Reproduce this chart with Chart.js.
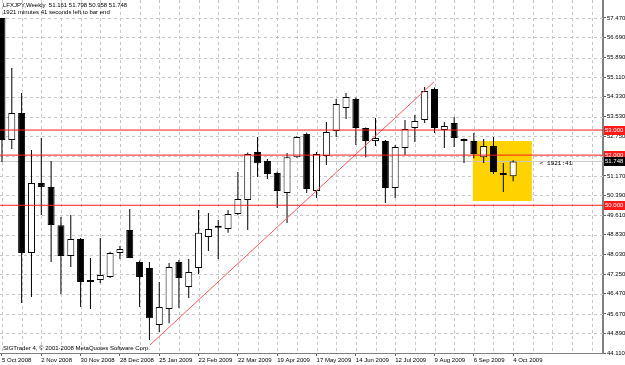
<!DOCTYPE html>
<html>
<head>
<meta charset="utf-8">
<title>LFXJPY,Weekly</title>
<script src="https://cdn.jsdelivr.net/npm/chart.js@4.4.0/dist/chart.umd.min.js"></script>
<style>
  html, body { margin: 0; padding: 0; background: #fff; }
  canvas { display: block; }
</style>
</head>
<body>
<canvas id="lfx-chart" width="625" height="365"></canvas>
<script>
"use strict";

// weekly bars, 5 Oct 2008 .. 4 Oct 2009 (bar index 0..52)
var opens  = [57.47, 52.60, 53.68, 48.10, 50.89, 50.73, 49.20, 47.98, 48.66, 46.94,
              47.02, 47.14, 48.10, 49.01, 47.74, 47.50, 45.23, 45.86, 47.74, 46.74,
              47.50, 48.74, 49.10, 49.05, 49.65, 50.21, 52.12, 51.77, 51.29, 50.49,
              51.92, 52.84, 50.57, 51.96, 52.96, 53.88, 54.24, 53.08, 52.56, 52.56,
              50.69, 52.28, 53.08, 53.40, 54.64, 53.00, 53.28, 52.64, 52.56, 51.92,
              52.36, 51.25, 51.161];
var highs  = [57.47, 55.47, 54.48, 52.20, 52.68, 51.77, 49.53, 49.61, 48.70, 47.90,
              48.70, 48.15, 48.38, 49.85, 47.80, 47.74, 46.94, 47.70, 47.82, 47.86,
              49.81, 49.69, 49.41, 49.81, 51.33, 52.10, 52.72, 51.85, 51.35, 52.08,
              52.75, 52.90, 52.12, 53.32, 54.24, 54.48, 54.30, 53.10, 53.48, 52.60,
              52.40, 53.40, 53.60, 54.72, 54.70, 53.32, 53.52, 52.66, 52.88, 52.64,
              52.72, 51.69, 51.798];
var lows   = [51.73, 52.24, 46.10, 46.34, 49.61, 47.74, 46.46, 47.54, 45.94, 45.86,
              46.90, 47.10, 47.86, 47.90, 45.94, 44.63, 44.95, 45.30, 45.90, 46.30,
              47.26, 48.18, 47.86, 48.90, 49.60, 49.01, 51.13, 51.05, 49.89, 49.29,
              51.90, 50.49, 50.29, 51.61, 52.72, 53.44, 52.40, 51.92, 52.36, 50.09,
              50.29, 52.00, 52.52, 53.28, 52.88, 52.28, 52.32, 51.69, 51.88, 51.69,
              51.25, 50.53, 50.958];
var closes = [52.60, 53.68, 48.10, 50.89, 50.73, 49.21, 47.98, 48.66, 46.94, 47.00,
              47.22, 48.10, 48.26, 47.90, 47.14, 45.50, 45.94, 47.54, 47.10, 47.34,
              48.90, 49.05, 49.15, 49.65, 50.25, 52.04, 51.68, 51.25, 50.57, 51.92,
              52.72, 50.65, 52.04, 52.92, 54.04, 54.32, 53.08, 52.56, 52.68, 50.69,
              52.32, 53.04, 53.36, 54.56, 53.08, 53.16, 52.68, 52.56, 52.04, 52.36,
              51.33, 51.21, 51.748];

// one date label every 4 bars
var dateLabels = ['5 Oct 2008', '2 Nov 2008', '30 Nov 2008', '28 Dec 2008', '25 Jan 2009',
                  '22 Feb 2009', '22 Mar 2009', '19 Apr 2009', '17 May 2009', '14 Jun 2009',
                  '12 Jul 2009', '9 Aug 2009', '6 Sep 2009', '4 Oct 2009'];
var priceTicks = [57.47, 56.69, 55.89, 55.11, 54.33, 53.53, 52.75, 51.95, 51.17, 50.39,
                  49.61, 48.83, 48.03, 47.25, 46.47, 45.67, 44.89, 44.11];
var hiddenTicks = [51.95];

var levels = [53.0, 52.0, 50.0];
var lastPrice = 51.748;
var trendX = [15.06, 43.95];
var trendY = [44.43, 54.92];
var boxX = [47.9, 53.9];
var boxY = [50.17, 52.56];

var headerLine1 = 'LFXJPY,Weekly  51.161 51.798 50.958 51.748';
var headerLine2 = '1921 minutes 41 seconds left to bar end';
var copyright = 'SIGTrader 4, \u00a9 2001-2008 MetaQuotes Software Corp.';
var timerText = '< 1921:41';

var smallFont = { family: '"Liberation Sans", Arial, sans-serif', size: 6 };
var gridColor = '#c6c6c6';

var gridBars = [];
for (var g = 0; g <= 60; g += 2) gridBars.push(g);

var wickData = [], bodyData = [], bodyColors = [];
for (var i = 0; i < opens.length; i++) {
    wickData.push({ x: i, y: [lows[i], highs[i]] });
    bodyData.push({ x: i, y: [Math.min(opens[i], closes[i]), Math.max(opens[i], closes[i])] });
    bodyColors.push(closes[i] >= opens[i] ? '#ffffff' : '#000000');
}

function hline(v) {
    return [{ x: -1, y: v }, { x: 62, y: v }];
}

var lineSets = levels.map(function (v) {
    return {
        type: 'line', data: hline(v), borderColor: '#ff1a1a', borderWidth: 1,
        pointRadius: 0, order: 0
    };
});

var overlay = {
    id: 'overlay',
    beforeDatasetsDraw: function (chart) {
        var xs = chart.scales.x, ys = chart.scales.y, ctx = chart.ctx;
        var area = chart.chartArea;
        ctx.save();

        // dotted grid at the scale ticks
        ctx.strokeStyle = gridColor;
        ctx.lineWidth = 1;
        ctx.setLineDash([3, 3]);
        ctx.beginPath();
        xs.ticks.forEach(function (t) {
            var px = Math.round(xs.getPixelForValue(t.value)) + 0.5;
            if (px < area.left || px > area.right - 2) return;
            ctx.moveTo(px, area.top);
            ctx.lineTo(px, area.bottom);
        });
        ys.ticks.forEach(function (t) {
            var py = Math.round(ys.getPixelForValue(t.value)) + 0.5;
            if (py > area.bottom - 1) return;
            ctx.moveTo(area.left, py);
            ctx.lineTo(area.right, py);
        });
        ctx.stroke();
        ctx.setLineDash([]);

        // highlighted zone
        var x0 = xs.getPixelForValue(boxX[0]), x1 = xs.getPixelForValue(boxX[1]);
        var y0 = ys.getPixelForValue(boxY[1]), y1 = ys.getPixelForValue(boxY[0]);
        ctx.fillStyle = '#ffd200';
        ctx.fillRect(x0, y0, x1 - x0, y1 - y0);
        ctx.restore();
    },
    afterDraw: function (chart) {
        var xs = chart.scales.x, ys = chart.scales.y, ctx = chart.ctx;
        var font = smallFont.size + 'px ' + smallFont.family;
        ctx.save();
        ctx.font = font;
        ctx.textBaseline = 'middle';
        ctx.textAlign = 'left';

        // price tags on the right axis
        function tag(v, bg) {
            var py = Math.round(ys.getPixelForValue(v));
            ctx.fillStyle = bg;
            ctx.fillRect(604, py - 4, 21, 9);
            ctx.fillStyle = '#ffffff';
            ctx.fillText(v.toFixed(3), 605, py + 0.5);
        }
        levels.forEach(function (v) { tag(v, '#ff1a1a'); });
        tag(lastPrice, '#000000');

        // texts
        ctx.fillStyle = '#000000';
        ctx.fillText(headerLine1, 3, 5.5);
        ctx.fillText(headerLine2, 3, 12);
        ctx.fillText(copyright, 3, 348);

        ctx.font = '6px "Liberation Mono", "DejaVu Sans Mono", monospace';
        ctx.fillText(timerText, xs.getPixelForValue(boxX[1]) + 8, ys.getPixelForValue(lastPrice) + 2);
        ctx.restore();
    }
};

var ctx = document.getElementById('lfx-chart');
var chart = new Chart(ctx, {
    type: 'bar',
    data: {
        datasets: [
            {
                label: 'wicks', data: wickData, backgroundColor: '#000000',
                barThickness: 1, grouped: false, inflateAmount: 0, order: 3
            },
            {
                label: 'bodies', data: bodyData, backgroundColor: bodyColors,
                borderColor: '#000000', borderWidth: 1, borderSkipped: false,
                barThickness: 7, minBarLength: 2, grouped: false, inflateAmount: 0, order: 2
            },
            {
                type: 'line', data: hline(lastPrice), borderColor: '#c8c8c8', borderWidth: 1,
                pointRadius: 0, order: 4
            },
            {
                type: 'line',
                data: [{ x: trendX[0], y: trendY[0] }, { x: trendX[1], y: trendY[1] }],
                borderColor: '#ff5a5a', borderWidth: 1, pointRadius: 0, order: 1
            }
        ].concat(lineSets)
    },
    options: {
        responsive: false,
        animation: false,
        devicePixelRatio: 1,
        events: [],
        layout: { padding: 0 },
        plugins: {
            legend: { display: false },
            tooltip: { enabled: false },
            title: { display: false }
        },
        scales: {
            x: {
                type: 'linear',
                min: -0.2,
                max: 61.14,
                offset: false,
                afterBuildTicks: function (s) {
                    s.ticks = gridBars.map(function (v) { return { value: v }; });
                },
                afterFit: function (s) {
                    s.height = 12;
                    s.paddingLeft = 0; s.paddingRight = 0;
                },
                ticks: {
                    autoSkip: false,
                    maxRotation: 0,
                    align: 'start',
                    padding: 1,
                    color: '#000000',
                    font: smallFont,
                    callback: function (v) {
                        if (v % 4 === 0 && v / 4 < dateLabels.length) return dateLabels[v / 4];
                        return '';
                    }
                },
                grid: {
                    offset: false,
                    drawOnChartArea: false,
                    tickLength: 3,
                    tickColor: function (c) {
                        var v = c.tick ? c.tick.value : 0;
                        return (v % 4 === 0 && v / 4 < dateLabels.length) ? '#606060' : 'rgba(0,0,0,0)';
                    }
                },
                border: { color: '#808080', width: 1 }
            },
            y: {
                type: 'linear',
                position: 'right',
                min: 44.11,
                max: 58.185,
                afterBuildTicks: function (s) {
                    s.ticks = priceTicks.map(function (v) { return { value: v }; });
                },
                afterFit: function (s) {
                    s.width = 22;
                    s.paddingTop = 0; s.paddingBottom = 0;
                },
                ticks: {
                    padding: 1,
                    color: '#000000',
                    font: smallFont,
                    callback: function (v) {
                        if (hiddenTicks.indexOf(v) >= 0) return '';
                        return v.toFixed(3);
                    }
                },
                grid: { drawOnChartArea: false, tickLength: 3, tickColor: '#606060' },
                border: { color: '#808080', width: 2 }
            }
        }
    },
    plugins: [overlay]
});
</script>
</body>
</html>
